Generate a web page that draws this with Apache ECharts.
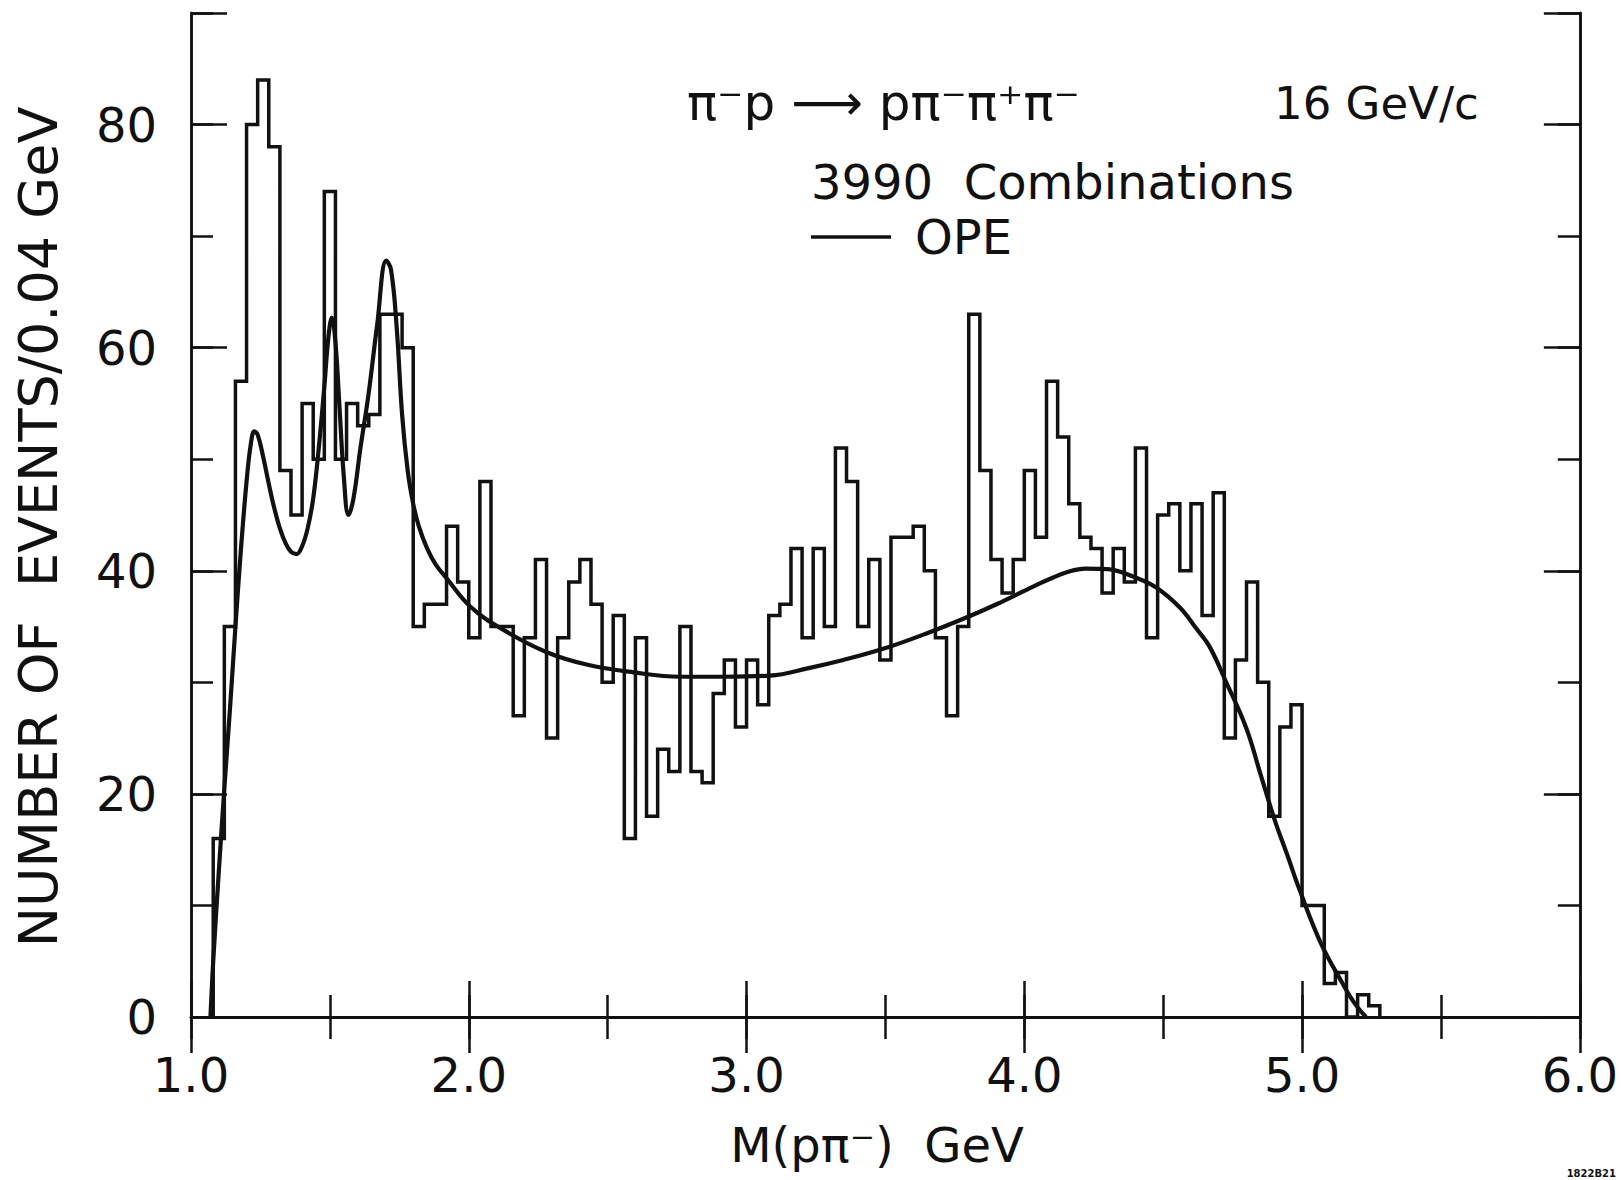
<!DOCTYPE html>
<html>
<head>
<meta charset="utf-8">
<script src="https://cdn.jsdelivr.net/npm/echarts@6/dist/echarts.min.js"></script>
<style>
html,body{margin:0;padding:0;background:#fff;}
#chart{width:1621px;height:1180px;}
</style>
</head>
<body>
<div id="chart"></div>
<script>
// ---- data ----
const binStart = 1.08;      // GeV, lower edge of first bin
const binWidth = 0.04;      // GeV
const counts = [
  16,35,57,80,84,78,49,45,55,50,74,50,55,53,54,63,63,60,
  35,37,37,44,39,34,48,35,35,27,
  34,41,25,34,39,41,37,30,36,16,
  34,18,24,22,35,22,21,29,32,26,
  32,28,36,37,42,34,42,35,51,48,
  35,41,32,43,43,44,40,34,27,35,
  63,49,41,38,41,49,43,57,52,46,
  43,42,38,42,39,51,34,45,46,40,
  46,36,47,25,32,39,30,18,26,28,
  10,10,3,4,0,2,1
];
const opeMass = [1.07,1.08,1.10,1.12,1.14,1.16,1.18,1.20,1.215,1.228,1.24,1.26,1.28,1.30,1.32,1.34,1.36,1.38,1.40,1.42,1.44,1.46,1.48,1.495,1.507,1.52,1.535,1.55,1.567,1.585,1.61,1.639,1.67,1.703,1.72,1.74,1.76,1.78,1.80,1.82,1.85,1.88,1.921,2.005,2.125,2.281,2.424,2.592,2.76,2.916,3.084,3.228,3.348,3.492,3.65,3.80,3.90,4.00,4.05,4.10,4.15,4.22,4.30,4.40,4.475,4.56,4.62,4.667,4.727,4.799,4.85,4.901,4.95,4.991,5.068,5.146,5.19,5.23];
const opeValue = [0,5,13,20.5,27.5,35,42,48,51.3,52.5,52.2,50.2,47.8,45.6,43.8,42.5,41.7,41.5,42.2,43.8,46.5,51,56.5,61,62.7,60.5,54.5,48.5,45,46.5,51,55.8,62,67.8,67,62,54,49,46,44,42,40.6,39.3,36.8,34.7,32.7,31.6,30.9,30.5,30.5,30.6,31.3,32.0,33.0,34.4,35.9,37.0,38.2,38.8,39.35,39.85,40.2,40.15,39.4,38.5,36.7,34.8,33.2,30.0,25.9,21.8,17.7,14.3,11.4,6.6,3.0,1.2,0];
const xTickLabels = ['1.0','2.0','3.0','4.0','5.0','6.0'];
const yTickLabels = ['0','20','40','60','80'];

// ---- build histogram outline ----
const histPath = [[binStart, 0]];
counts.forEach((c, i) => {
  const lo = +(binStart + i * binWidth).toFixed(4);
  const hi = +(binStart + (i + 1) * binWidth).toFixed(4);
  histPath.push([lo, c], [hi, c]);
});
histPath.push([+(binStart + counts.length * binWidth).toFixed(4), 0]);
const opeData = opeMass.map((m, i) => [m, opeValue[i]]);

const FONT = 'DejaVu Sans';
const INK = '#111';
const AXW = 2.5;

function xAxisDef(pos, interval, tickLen, labels) {
  return {
    type: 'value', position: pos, min: 1, max: 6, interval: interval,
    axisLine: { show: true, lineStyle: { color: INK, width: AXW } },
    axisTick: { show: true, inside: true, length: tickLen, lineStyle: { color: INK, width: AXW } },
    axisLabel: labels ? {
      show: true, margin: 34, color: INK, fontFamily: FONT, fontSize: 48,
      formatter: v => { const k = Math.round(v); return Math.abs(v - k) < 1e-6 ? (xTickLabels[k - 1] || '') : ''; }
    } : { show: false },
    splitLine: { show: false }
  };
}
function yAxisDef(pos, interval, tickLen, labels) {
  return {
    type: 'value', position: pos, min: 0, max: 90, interval: interval,
    axisLine: { show: true, lineStyle: { color: INK, width: AXW } },
    axisTick: { show: true, inside: true, length: tickLen, lineStyle: { color: INK, width: AXW } },
    axisLabel: labels ? {
      show: true, margin: 34, color: INK, fontFamily: FONT, fontSize: 48,
      formatter: v => { const k = Math.round(v / 20); return (Math.abs(v - k * 20) < 1e-6 && yTickLabels[k]) ? yTickLabels[k] : ''; }
    } : { show: false },
    splitLine: { show: false }
  };
}

const chart = echarts.init(document.getElementById('chart'), null, { renderer: 'svg' });
chart.setOption({
  animation: false,
  backgroundColor: '#fff',
  grid: { left: 191, right: 40, top: 13, bottom: 163, containLabel: false },
  xAxis: [
    xAxisDef('bottom', 0.5, 22, true),
    xAxisDef('bottom', 1, 36, false),
    xAxisDef('top', 0.5, 22, false),
    xAxisDef('top', 1, 36, false)
  ],
  yAxis: [
    yAxisDef('left', 10, 22, true),
    yAxisDef('left', 20, 36, false),
    yAxisDef('right', 10, 22, false),
    yAxisDef('right', 20, 36, false)
  ],
  series: [
    {
      name: 'histogram', type: 'line', xAxisIndex: 0, yAxisIndex: 0,
      data: histPath, showSymbol: false, symbol: 'none',
      lineStyle: { color: INK, width: 3.5, join: 'miter' }, z: 3
    },
    {
      name: 'OPE', type: 'line', xAxisIndex: 0, yAxisIndex: 0,
      data: opeData, showSymbol: false, symbol: 'none', smooth: 0.4,
      lineStyle: { color: INK, width: 4.2 }, z: 4
    }
  ],
  graphic: [
    { type: 'text', x: 687, y: 103, style: { text: 'π⁻p ⟶ pπ⁻π⁺π⁻', fontFamily: FONT, fontSize: 50, fill: INK, textAlign: 'left', textVerticalAlign: 'middle' } },
    { type: 'text', x: 1274, y: 103, style: { text: '16 GeV/c', fontFamily: FONT, fontSize: 45, fill: INK, textAlign: 'left', textVerticalAlign: 'middle' } },
    { type: 'text', x: 811, y: 182, style: { text: '3990  Combinations', fontFamily: FONT, fontSize: 48, fill: INK, textAlign: 'left', textVerticalAlign: 'middle' } },
    { type: 'line', shape: { x1: 811, y1: 237, x2: 891, y2: 237 }, style: { stroke: INK, lineWidth: 3.5 } },
    { type: 'text', x: 915, y: 237, style: { text: 'OPE', fontFamily: FONT, fontSize: 48, fill: INK, textAlign: 'left', textVerticalAlign: 'middle' } },
    { type: 'text', x: 877, y: 1145, style: { text: 'M(pπ⁻)  GeV', fontFamily: FONT, fontSize: 48, fill: INK, textAlign: 'center', textVerticalAlign: 'middle' } },
    { type: 'text', x: 38, y: 527, rotation: Math.PI / 2, style: { text: 'NUMBER OF  EVENTS/0.04 GeV', fontFamily: FONT, fontSize: 54, fill: INK, textAlign: 'center', textVerticalAlign: 'middle' } },
    { type: 'text', x: 1616, y: 1173, style: { text: '1822B21', fontFamily: FONT, fontSize: 10, fontWeight: 'bold', fill: INK, textAlign: 'right', textVerticalAlign: 'middle' } }
  ]
});
</script>
</body>
</html>
